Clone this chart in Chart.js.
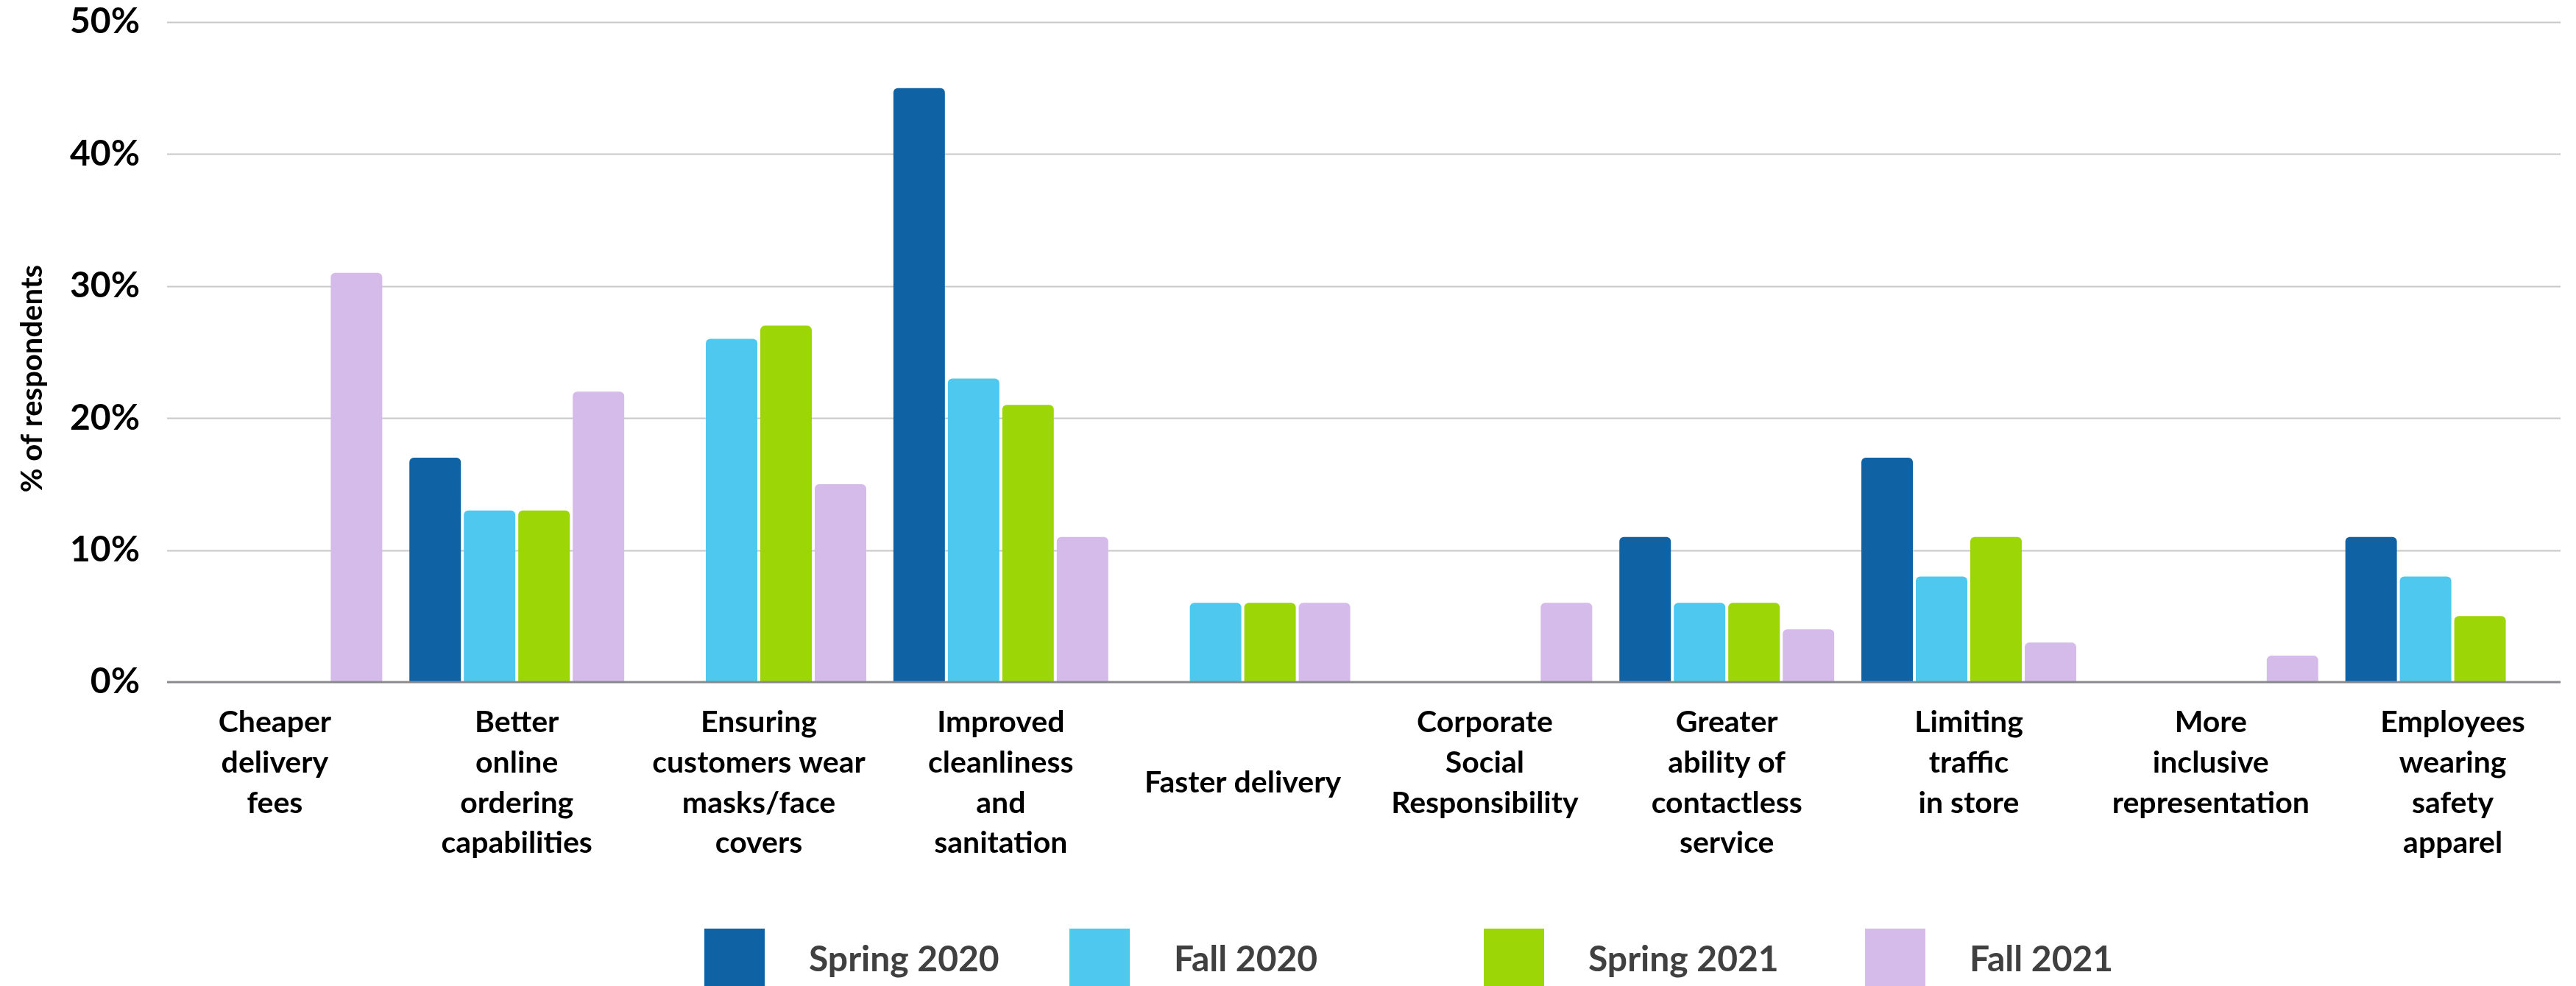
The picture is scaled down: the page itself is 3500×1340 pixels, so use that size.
<!DOCTYPE html>
<html lang="en">
  <head>
    <meta charset="UTF-8" />
    <title>Customer priorities by survey wave</title>
    <script src="https://cdn.jsdelivr.net/npm/chart.js"></script>
    <style>
      html,
      body {
        margin: 0;
        padding: 0;
        background: #fff;
      }
      #wrap {
        width: 3500px;
        height: 1340px;
        position: relative;
      }
    </style>
  </head>
  <body>
    <div id="wrap">
      <canvas id="priorityChart" width="3500" height="1340"></canvas>
    </div>

    <script>
      // categories (multi-line labels as shown under the axis)
      const categories = [
        ["Cheaper", "delivery", "fees"],
        ["Better", "online", "ordering", "capabilities"],
        ["Ensuring", "customers wear", "masks/face", "covers"],
        ["Improved", "cleanliness", "and", "sanitation"],
        ["Faster delivery"],
        ["Corporate", "Social", "Responsibility"],
        ["Greater", "ability of", "contactless", "service"],
        ["Limiting", "traffic", "in store"],
        ["More", "inclusive", "representation"],
        ["Employees", "wearing", "safety", "apparel"],
      ];

      // % of respondents per survey wave (null = not asked that wave)
      const spring2020 = [null, 17, null, 45, null, null, 11, 17, null, 11];
      const fall2020 = [null, 13, 26, 23, 6, null, 6, 8, null, 8];
      const spring2021 = [null, 13, 27, 21, 6, null, 6, 11, null, 5];
      const fall2021 = [31, 22, 15, 11, 6, 6, 4, 3, 2, null];

      const seriesNames = ["Spring 2020", "Fall 2020", "Spring 2021", "Fall 2021"];
      const seriesColors = ["#0f62a4", "#4fc8ef", "#9dd606", "#d5bbe9"];
      const yTicks = [0, 10, 20, 30, 40, 50];
      const yTitle = "% of respondents";

      // where each legend entry starts along the bottom row
      const legendX = [957, 1453, 2016, 2534];

      const FONT = "Lato, 'Noto Sans', sans-serif";
      const GRID_INSET = 18;

      // horizontal grid rows drawn behind the bars, slightly inset from the plot edges
      const gridRows = {
        id: "gridRows",
        beforeDatasetsDraw(chart) {
          const { ctx, chartArea, scales } = chart;
          ctx.save();
          ctx.strokeStyle = "#c8c8c8";
          ctx.lineWidth = 2;
          scales.y.ticks.forEach((t) => {
            if (t.value === 0) return;
            const y = Math.round(scales.y.getPixelForValue(t.value)) + 0.5;
            ctx.beginPath();
            ctx.moveTo(chartArea.left + GRID_INSET, y);
            ctx.lineTo(chartArea.right - GRID_INSET, y);
            ctx.stroke();
          });
          ctx.restore();
        },
        afterDatasetsDraw(chart) {
          // baseline sits on top of the bar bottoms
          const { ctx, chartArea, scales } = chart;
          const y = scales.y.getPixelForValue(0);
          ctx.save();
          ctx.strokeStyle = "#8a898e";
          ctx.lineWidth = 3;
          ctx.beginPath();
          ctx.moveTo(chartArea.left + GRID_INSET, y);
          ctx.lineTo(chartArea.right - GRID_INSET, y);
          ctx.stroke();
          ctx.restore();
        },
      };

      // rotated y title, sitting a little below the middle of the axis
      const axisTitle = {
        id: "axisTitle",
        afterDraw(chart) {
          const { ctx, chartArea } = chart;
          ctx.save();
          ctx.translate(44, (chartArea.top + chartArea.bottom) / 2 + 36);
          ctx.rotate(-Math.PI / 2);
          ctx.font = "bold 40px " + FONT;
          ctx.fillStyle = "#000";
          ctx.textAlign = "center";
          ctx.textBaseline = "middle";
          ctx.fillText(yTitle, 0, 0);
          ctx.restore();
        },
      };

      // legend row under the category labels
      const bottomLegend = {
        id: "bottomLegend",
        afterDraw(chart) {
          const { ctx } = chart;
          ctx.save();
          ctx.font = "bold 48px " + FONT;
          ctx.textBaseline = "middle";
          ctx.textAlign = "left";
          chart.data.datasets.forEach((ds, i) => {
            const x = legendX[i];
            ctx.fillStyle = ds.backgroundColor;
            ctx.fillRect(x, 1262, 82, 82);
            ctx.fillStyle = "#404040";
            ctx.fillText(ds.label, x + 82 + 60, 1305);
          });
          ctx.restore();
        },
      };

      const series = [spring2020, fall2020, spring2021, fall2021];

      new Chart(document.getElementById("priorityChart"), {
        type: "bar",
        data: {
          labels: categories,
          datasets: series.map((values, i) => ({
            label: seriesNames[i],
            data: values,
            backgroundColor: seriesColors[i],
            borderRadius: { topLeft: 6, topRight: 6 },
            borderSkipped: "bottom",
            categoryPercentage: 0.9,
            barPercentage: 0.946,
          })),
        },
        options: {
          responsive: false,
          animation: false,
          devicePixelRatio: 1,
          layout: { padding: { top: 30, right: 3, left: 0, bottom: 0 } },
          plugins: {
            legend: { display: false },
            tooltip: { enabled: false },
          },
          scales: {
            x: {
              grid: { display: false, drawTicks: false },
              border: { display: false },
              ticks: {
                color: "#000",
                padding: 28,
                maxRotation: 0,
                autoSkip: false,
                // single-line labels sit in the middle of the label band
                font: (c) => ({
                  family: FONT,
                  size: 41,
                  weight: "bold",
                  lineHeight: categories[c.index] && categories[c.index].length === 1 ? 5.32 : 1.33,
                }),
              },
              afterFit(scale) {
                scale.height = 413;
              },
            },
            y: {
              min: 0,
              max: 50,
              afterBuildTicks(scale) {
                scale.ticks = yTicks.map((v) => ({ value: v }));
              },
              grid: { display: false, drawTicks: false },
              border: { display: false },
              ticks: {
                color: "#000",
                padding: 19,
                font: { family: FONT, size: 48, weight: "bold" },
                callback: (v) => v + "%",
              },
              afterFit(scale) {
                scale.width = 209;
                scale.paddingTop = 0;
                scale.paddingBottom = 0;
              },
            },
          },
        },
        plugins: [gridRows, axisTitle, bottomLegend],
      });
    </script>
  </body>
</html>
